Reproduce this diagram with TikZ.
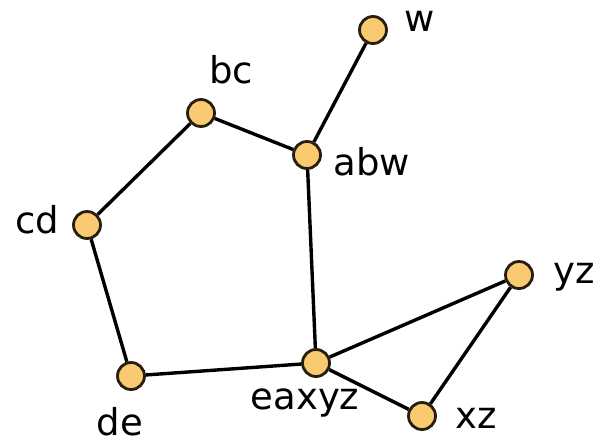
\documentclass[tikz,border=0pt]{standalone}
\usepackage{fontspec}
\setmainfont{DejaVu Sans}
\definecolor{nodefill}{RGB}{250,202,112}
\definecolor{nodeline}{RGB}{40,30,15}
\begin{document}
\begin{tikzpicture}[x=1pt,y=-1pt,
  vtx/.style={circle,draw=nodeline,fill=nodefill,line width=2.8pt,minimum size=27pt,inner sep=0pt},
  lbl/.style={font=\fontsize{37}{40}\selectfont,inner sep=0pt,text=black},
  edge/.style={line width=3.4pt,draw=black}]
\useasboundingbox (0,0) rectangle (596,445);
\node[vtx] (w) at (373,30) {};
\node[vtx] (bc) at (201,113) {};
\node[vtx] (abw) at (307,155) {};
\node[vtx] (cd) at (87,225) {};
\node[vtx] (de) at (131,376) {};
\node[vtx] (eaxyz) at (316,363) {};
\node[vtx] (yz) at (519,275) {};
\node[vtx] (xz) at (422,416) {};
\draw[edge] (w) -- (abw);
\draw[edge] (bc) -- (abw);
\draw[edge] (bc) -- (cd);
\draw[edge] (cd) -- (de);
\draw[edge] (de) -- (eaxyz);
\draw[edge] (abw) -- (eaxyz);
\draw[edge] (eaxyz) -- (yz);
\draw[edge] (eaxyz) -- (xz);
\draw[edge] (yz) -- (xz);
\node[lbl] (lw) at (420,21) {w};
\node[lbl] (lbc) at (231,70) {bc};
\node[lbl] (labw) at (372,162) {abw};
\node[lbl] (lcd) at (37,220) {cd};
\node[lbl] (lde) at (120,422) {de};
\node[lbl] (leaxyz) at (305,403) {eaxyz};
\node[lbl] (lyz) at (574,277) {yz};
\node[lbl] (lxz) at (476,418) {xz};
\end{tikzpicture}
\end{document}
